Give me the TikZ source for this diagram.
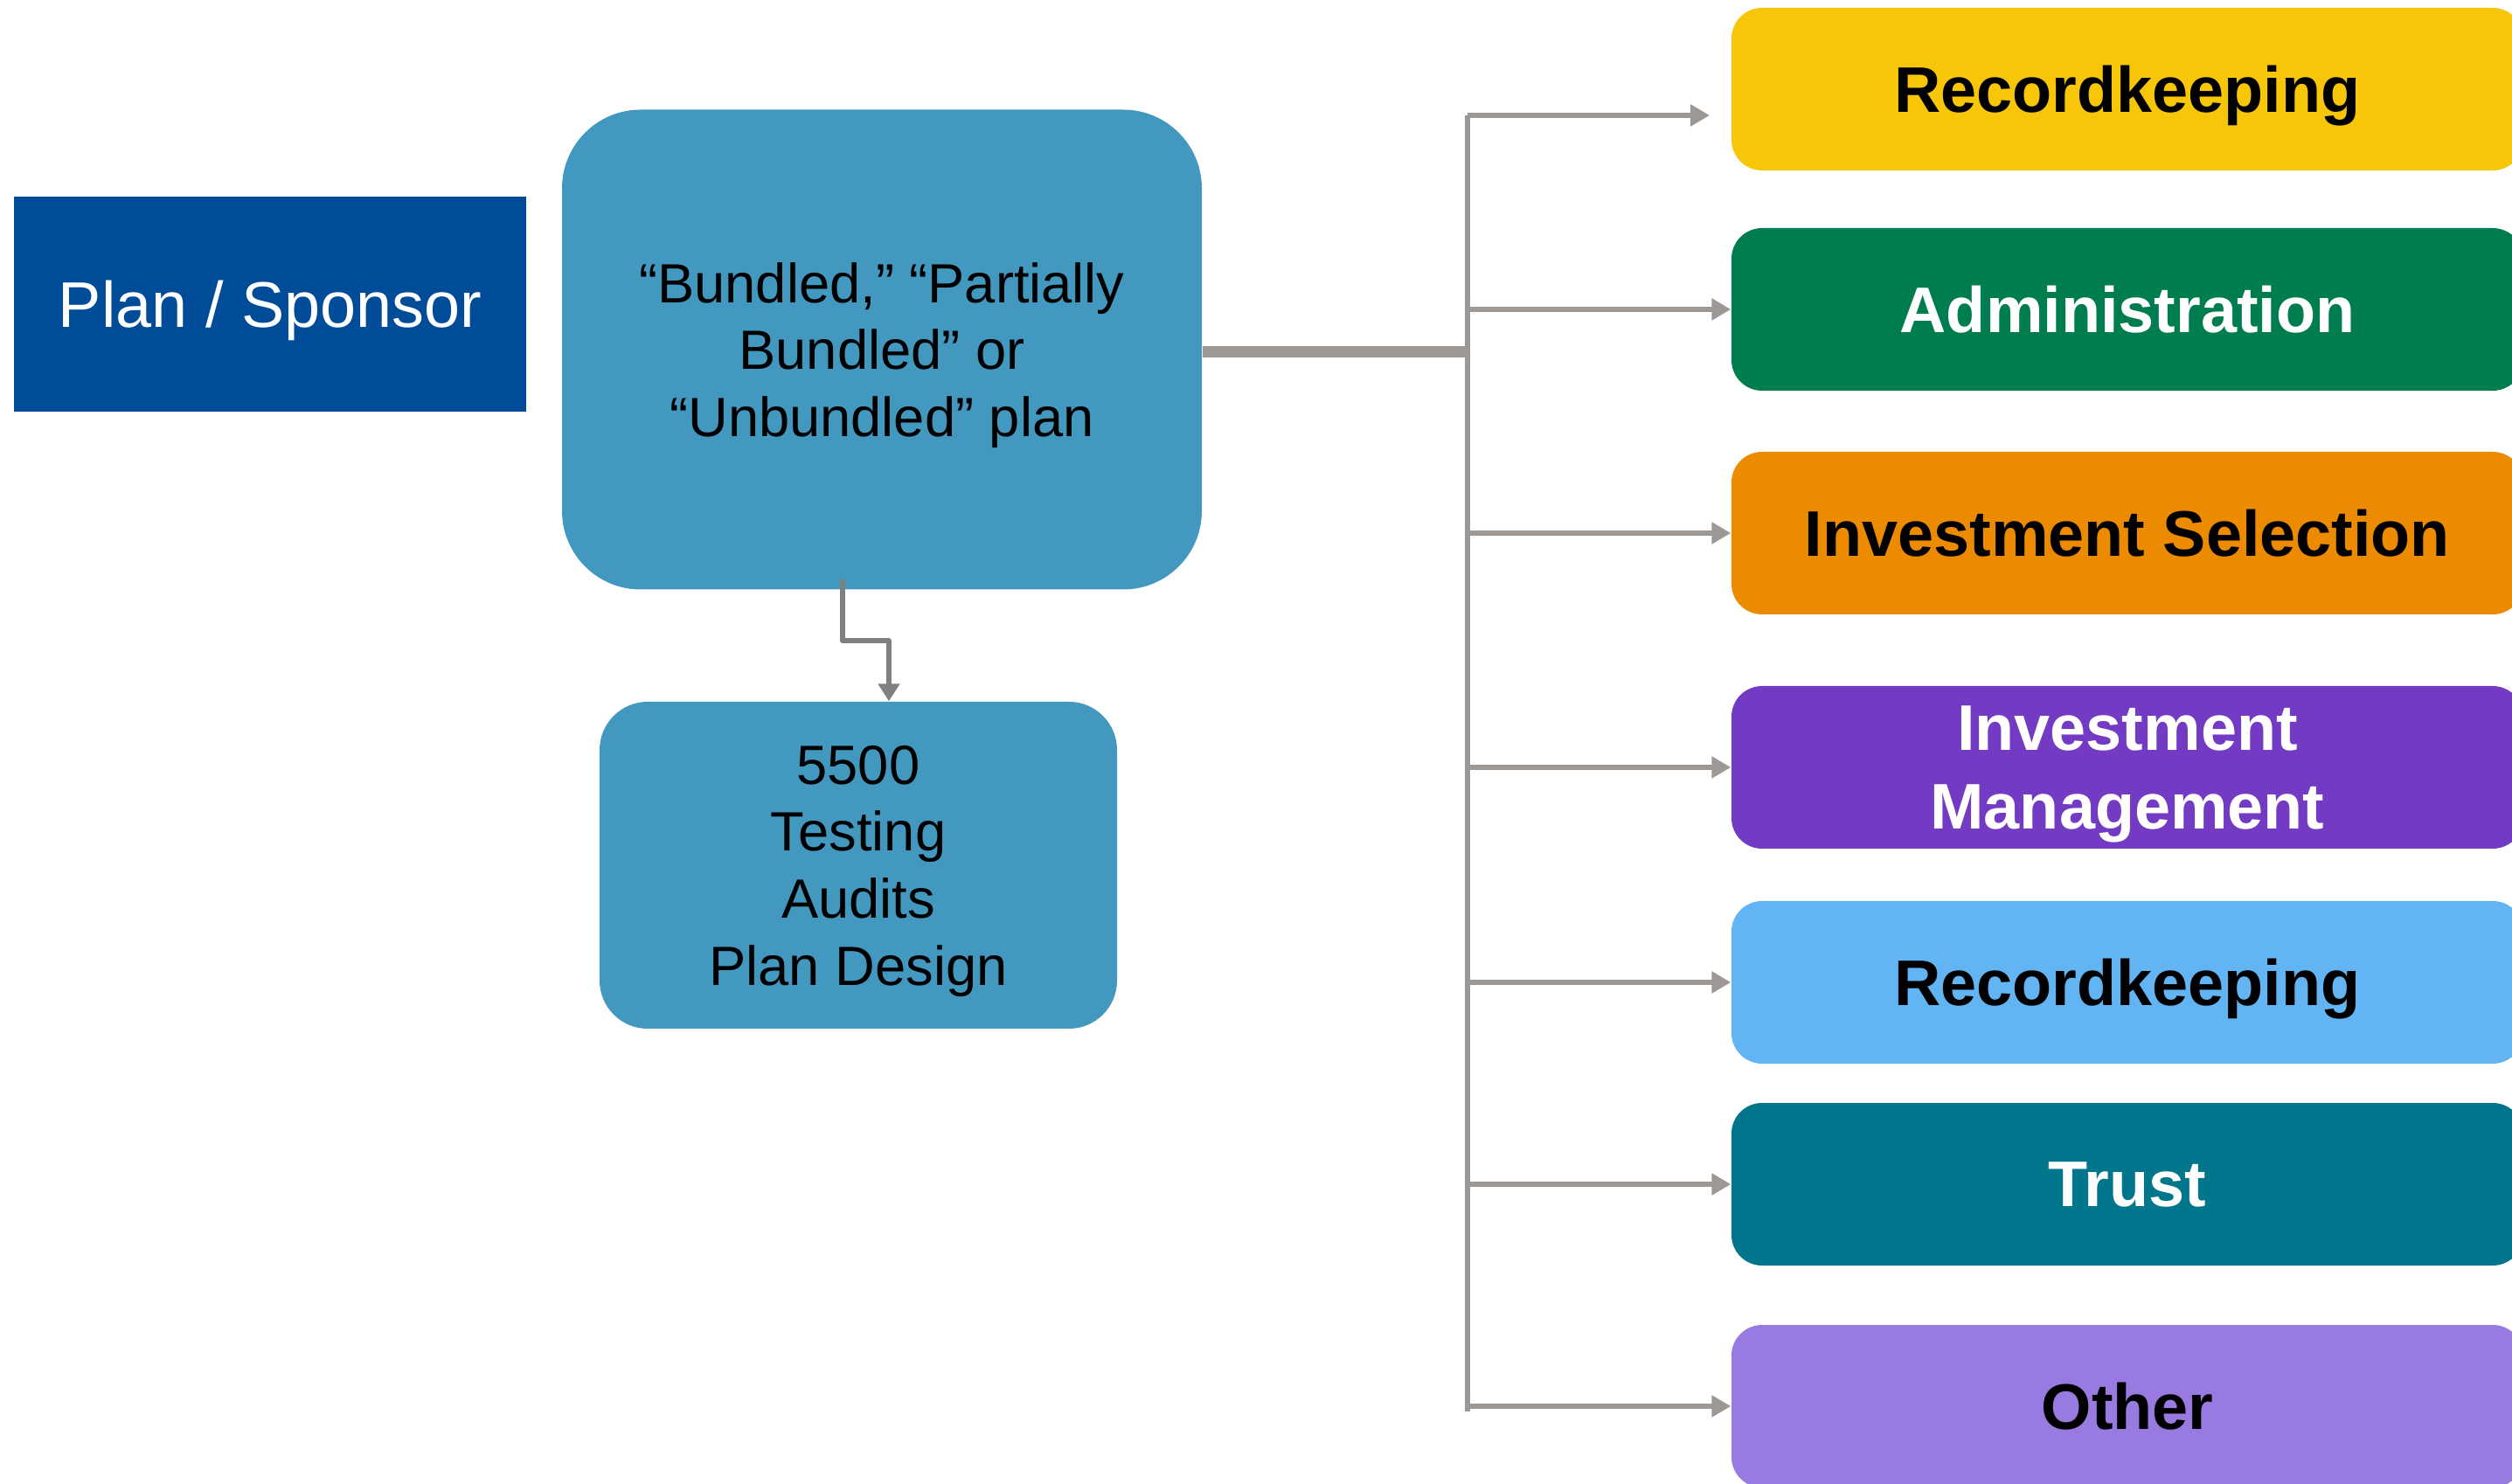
\documentclass[tikz,border=0pt]{standalone}
\usepackage{fontspec}
\setmainfont{Liberation Sans}
\usetikzlibrary{arrows.meta}

\definecolor{sponsorblue}{RGB}{0,76,153}
\definecolor{planblue}{RGB}{67,152,192}
\definecolor{linkgray}{RGB}{158,152,149}
\definecolor{downgray}{RGB}{128,128,128}
\definecolor{recyellow}{RGB}{247,198,8}
\definecolor{admingreen}{RGB}{0,125,79}
\definecolor{selorange}{RGB}{236,138,0}
\definecolor{mgmtpurple}{RGB}{115,58,196}
\definecolor{reclightblue}{RGB}{98,181,242}
\definecolor{trustteal}{RGB}{0,118,140}
\definecolor{otherlilac}{RGB}{152,122,224}

\begin{document}
\begin{tikzpicture}
  \tikzstyle{sponsor} = [fill=sponsorblue,text=white,minimum width=5.85cm,minimum height=2.46cm,text depth=0pt,font=\fontsize{21}{25}\selectfont]
  \tikzstyle{planbox} = [fill=planblue,align=center,text depth=0pt,font=\fontsize{18}{21.8}\selectfont]
  \tikzstyle{service} = [rounded corners=0.35cm,minimum width=9.06cm,minimum height=1.86cm,align=center,text depth=0pt,font=\fontsize{21}{25.5}\selectfont\bfseries]
  \tikzstyle{link} = [draw=linkgray,line width=1.7pt,line join=round]
  \tikzstyle{arrowlink} = [link,-{Triangle[length=0.22cm,width=0.24cm]}]
  \useasboundingbox (0,0) rectangle (28.74,-16.98);
  \node[sponsor] (sponsor) at (3.09,-3.48) {Plan / Sponsor};
  \node[planbox,minimum width=7.32cm,minimum height=5.49cm,rounded corners=0.9cm] (bundled) at (10.09,-4.00)
    {“Bundled,” “Partially\\Bundled” or\\“Unbundled” plan};
  \node[planbox,minimum width=5.92cm,minimum height=3.74cm,rounded corners=0.55cm] (services) at (9.82,-9.90)
    {5500\\Testing\\Audits\\Plan Design};
  \foreach \n/\y/\c/\t/\txt in {rec1/1.02/recyellow/black/Recordkeeping,
      admin/3.54/admingreen/white/Administration,
      invsel/6.10/selorange/black/Investment Selection,
      invmgmt/8.78/mgmtpurple/white/Investment\\Management,
      rec2/11.24/reclightblue/black/Recordkeeping,
      trust/13.55/trustteal/white/Trust,
      other/16.09/otherlilac/black/Other}{
    \node[service,fill=\c,text=\t] (\n) at (24.34,-\y) {\txt};
  }
  % trunk to the service boxes
  \coordinate (top) at (16.79,-1.32);
  \coordinate (bot) at (16.79,-16.15);
  \coordinate (recin) at (19.56,-1.32);
  \draw[link,line width=3.7pt] ([yshift=-0.03cm]bundled.east) -- ([yshift=-0.03cm]bundled.east -| top);
  \draw[link] (top) -- (bot);
  \draw[arrowlink] (top) -- (recin);
  \foreach \n in {admin,invsel,invmgmt,rec2,trust,other}
    \draw[arrowlink] (\n.west -| top) -- (\n.west);
  % down to the plan services
  \draw[draw=downgray,line width=1.7pt,line join=round,-{Triangle[length=0.2cm,width=0.24cm]}]
    ([xshift=-0.45cm,yshift=0.12cm]bundled.south) |- ([xshift=0.35cm,yshift=0.69cm]services.north)
    -- ([xshift=0.35cm]services.north);
\end{tikzpicture}
\end{document}
